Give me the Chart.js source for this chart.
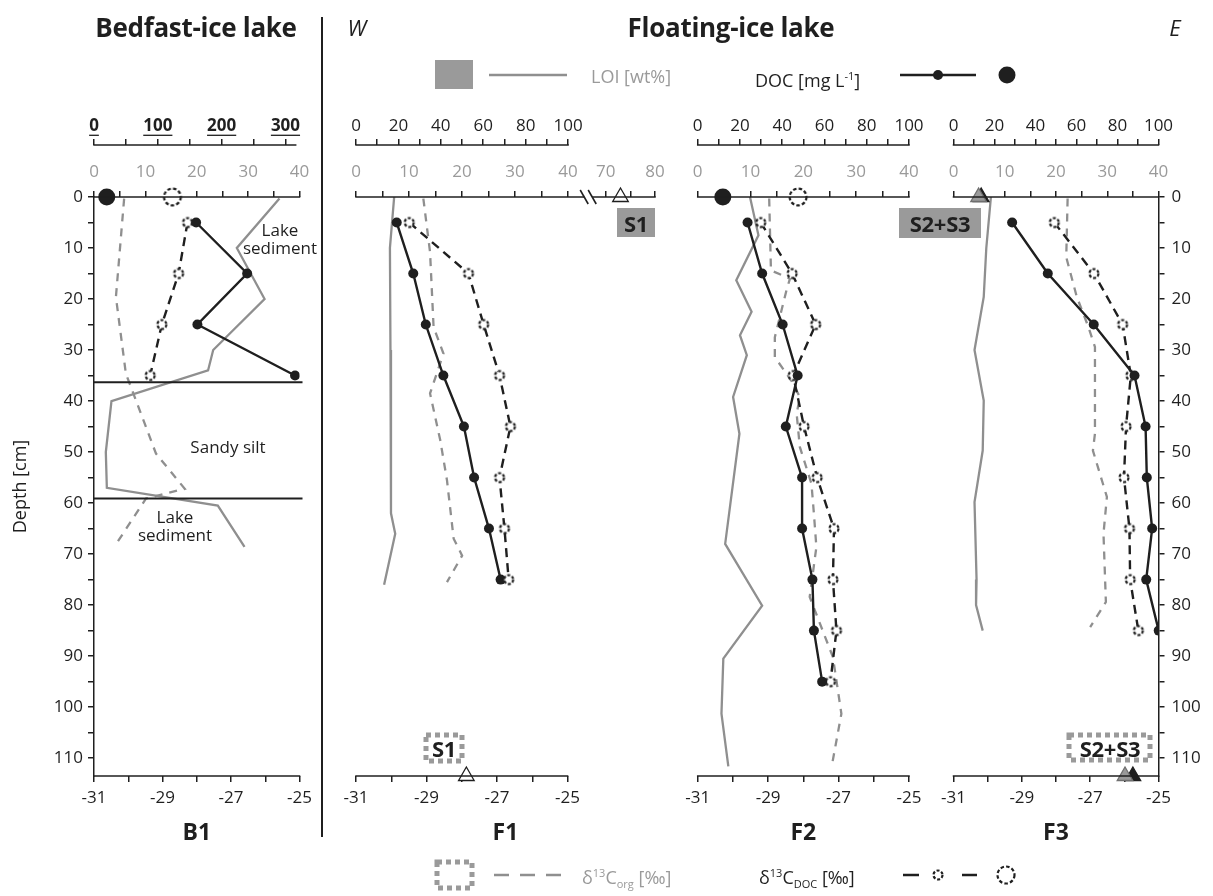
<!DOCTYPE html>
<html>
<head>
<meta charset="utf-8">
<script src="https://cdn.jsdelivr.net/npm/chart.js@4"></script>
<style>
  body { margin: 0; background: #fff; font-family: 'Open Sans', sans-serif; }
  #wrap { position: relative; width: 1213px; height: 896px; overflow: hidden; }
  canvas { position: absolute; left: 0; top: 0; }
  svg { position: absolute; left: 0; top: 0; }
  .t { position: absolute; white-space: nowrap; line-height: 1; color: #1f1f1f; }
  .c { transform: translate(-50%, -50%); text-align: center; }
  .l { transform: translate(0, -50%); }
  .big { font-weight: 700; font-size: 26px; letter-spacing: -0.3px; }
  .it { font-style: italic; font-size: 22px; }
  .lg { font-size: 18px; }
  .gray { color: #9a9a9a; }
  .ann { font-size: 17px; line-height: 18px; }
  .box { font-weight: 700; font-size: 22px; letter-spacing: -0.3px; }
  sup, sub { font-size: 11px; }
</style>
</head>
<body>
<div id="wrap">
  <canvas id="b1" width="1213" height="896"></canvas>
  <canvas id="f1" width="1213" height="896"></canvas>
  <canvas id="f2" width="1213" height="896"></canvas>
  <canvas id="f3" width="1213" height="896"></canvas>

  <svg width="1213" height="896">
    <line x1="322" y1="17" x2="322" y2="837" stroke="#1f1f1f" stroke-width="2"/>
    <!-- top legend -->
    <rect x="435" y="60" width="38" height="29" fill="#9a9a9a"/>
    <line x1="489" y1="75" x2="567" y2="75" stroke="#8f8f8f" stroke-width="2.5"/>
    <line x1="900" y1="75" x2="976" y2="75" stroke="#1f1f1f" stroke-width="2.5"/>
    <circle cx="938" cy="75" r="5" fill="#1f1f1f"/>
    <circle cx="1007" cy="75" r="8.5" fill="#1f1f1f"/>
    <!-- bottom legend -->
    <rect x="437" y="862" width="35" height="26" fill="none" stroke="#9a9a9a" stroke-width="5" stroke-dasharray="5 4"/>
    <line x1="494" y1="875" x2="561" y2="875" stroke="#8f8f8f" stroke-width="2.5" stroke-dasharray="15 11"/>
    <line x1="903" y1="875" x2="919" y2="875" stroke="#1f1f1f" stroke-width="2.5"/>
    <line x1="962" y1="875" x2="977" y2="875" stroke="#1f1f1f" stroke-width="2.5"/>
    <circle cx="938" cy="875" r="4.5" fill="#fff" stroke="#1f1f1f" stroke-width="2.2" stroke-dasharray="3 1.8"/>
    <circle cx="1006" cy="875" r="8.5" fill="#fff" stroke="#1f1f1f" stroke-width="2.2" stroke-dasharray="3.5 2.2"/>
    <!-- sample boxes -->
    <rect x="617" y="208" width="38" height="29" fill="#9a9a9a"/>
    <rect x="899" y="208" width="82" height="30" fill="#9a9a9a"/>
    <rect x="426" y="735" width="36" height="26" fill="none" stroke="#9a9a9a" stroke-width="5" stroke-dasharray="5 4"/>
    <rect x="1069" y="735" width="81" height="25" fill="none" stroke="#9a9a9a" stroke-width="5" stroke-dasharray="5 4"/>
  </svg>

  <div class="t c big" style="left:196px;top:27px">Bedfast-ice lake</div>
  <div class="t c it" style="left:357px;top:27px">W</div>
  <div class="t c big" style="left:731px;top:27px">Floating-ice lake</div>
  <div class="t c it" style="left:1175px;top:27px">E</div>

  <div class="t l lg gray" style="left:591px;top:76px">LOI [wt%]</div>
  <div class="t l lg" style="left:755px;top:79px">DOC [mg L<sup>-1</sup>]</div>
  <div class="t l lg gray" style="left:582px;top:878px">&delta;<sup>13</sup>C<sub>org</sub> [&permil;]</div>
  <div class="t l lg" style="left:759px;top:878px">&delta;<sup>13</sup>C<sub>DOC</sub> [&permil;]</div>

  <div class="t c ann" style="left:280px;top:239px">Lake<br>sediment</div>
  <div class="t c ann" style="left:228px;top:447px">Sandy silt</div>
  <div class="t c ann" style="left:175px;top:526px">Lake<br>sediment</div>

  <div class="t c box" style="left:636px;top:223px">S1</div>
  <div class="t c box" style="left:940px;top:223px">S2+S3</div>
  <div class="t c box" style="left:444px;top:748px">S1</div>
  <div class="t c box" style="left:1110px;top:748px">S2+S3</div>
</div>

<script>
// ---- tick values and labels ----
const depthTicks = [0, 5, 10, 15, 20, 25, 30, 35, 40, 45, 50, 55, 60, 65, 70, 75, 80, 85, 90, 95, 100, 105, 110];
const depthLabels = ['0', '', '10', '', '20', '', '30', '', '40', '', '50', '', '60', '', '70', '', '80', '', '90', '', '100', '', '110'];
const d13Ticks = [-31, -30, -29, -28, -27, -26, -25];
const d13Labels = ['-31', '', '-29', '', '-27', '', '-25'];
const loiTicks = [0, 5, 10, 15, 20, 25, 30, 35, 40];
const loiLabels = ['0', '', '10', '', '20', '', '30', '', '40'];
const f1LoiTicks = [0, 5, 10, 15, 20, 25, 30, 35, 40, 70, 75, 80];
const f1LoiLabels = ['0', '', '10', '', '20', '', '30', '', '40', '70', '', '80'];
const docTicks = [0, 10, 20, 30, 40, 50, 60, 70, 80, 90, 100];
const docLabels = ['0', '', '20', '', '40', '', '60', '', '80', '', '100'];
const b1DocTicks = [0, 50, 100, 150, 200, 250, 300];
const b1DocLabels = ['0', '', '100', '', '200', '', '300'];

// ---- B1 ----
const b1DocDepth = [5, 15, 25, 35];
const b1Doc = [160, 240, 162, 315];
const b1DocD13C = [-28.27, -28.53, -29.02, -29.36];
const b1LoiDepth = [0.3, 10, 20, 30, 34, 40, 50, 57, 60.5, 68.6];
const b1Loi = [36.1, 27.8, 33.2, 23.2, 22.2, 3.4, 2.3, 2.5, 24.1, 29.3];
const b1OrgDepth = [0.3, 19.6, 34.6, 50.3, 57.2, 59.1, 68.6];
const b1Org = [-30.12, -30.36, -30.07, -29.19, -28.35, -29.48, -30.41];
const b1SurfaceDoc = 20;
const b1SurfaceD13C = -28.71;
const b1UnitBounds = [36.3, 59.1];

// ---- F1 ----
const f1DocDepth = [5, 15, 25, 35, 45, 55, 65, 75];
const f1Doc = [19.2, 27.0, 32.9, 41.2, 50.9, 55.7, 62.7, 68.2];
const f1DocD13C = [-29.49, -27.81, -27.38, -26.93, -26.62, -26.93, -26.79, -26.67];
const f1LoiDepth = [0, 10, 30, 62, 66, 76];
const f1Loi = [7.2, 6.4, 6.5, 6.6, 7.4, 5.3];
const f1OrgDepth = [0.3, 10.8, 25.5, 30.7, 38.5, 47.7, 55.5, 67, 70.3, 75.5];
const f1Org = [-29.09, -28.90, -28.80, -28.52, -28.90, -28.61, -28.42, -28.23, -27.99, -28.42];
const s1Loi = 73;
const s1Org = -27.87;

// ---- F2 ----
const f2DocDepth = [5, 15, 25, 35, 45, 55, 65, 75, 85, 95];
const f2Doc = [23.6, 30.5, 40.2, 47.3, 41.7, 49.4, 49.4, 54.3, 55.0, 58.9];
const f2DocD13C = [-29.21, -28.32, -27.65, -28.29, -27.98, -27.61, -27.13, -27.16, -27.06, -27.23];
const f2LoiDepth = [0, 7.5, 16.3, 22.5, 27.1, 31, 39.2, 46.4, 68, 80.1, 90.5, 101.3, 111.6];
const f2Loi = [9.9, 11.5, 7.3, 10.2, 8.0, 9.3, 6.7, 7.9, 5.2, 12.2, 4.85, 4.5, 5.8];
const f2OrgDepth = [0.3, 14.4, 16, 18.3, 27.5, 31.4, 36, 39.2, 42.5, 49, 56.2, 62.1, 68.6, 78.4, 90.2, 101.3, 111.8];
const f2Org = [-28.97, -28.92, -28.38, -28.48, -28.81, -28.81, -28.34, -28.10, -28.19, -28.10, -27.77, -27.70, -27.63, -27.82, -27.16, -26.92, -27.20];
const f2SurfaceDoc = 11.9;
const f2SurfaceD13C = -28.15;

// ---- F3 ----
const f3DocDepth = [5, 15, 25, 35, 45, 55, 65, 75, 85];
const f3Doc = [28.6, 46.0, 68.4, 88.3, 93.7, 94.3, 96.9, 94.0, 100.1];
const f3DocD13C = [-28.05, -26.89, -26.05, -25.81, -25.95, -26.01, -25.85, -25.83, -25.59];
const f3LoiDepth = [0, 10, 19.6, 30, 39.9, 49.7, 59.8, 75, 80, 85];
const f3Loi = [7.3, 6.4, 5.9, 4.1, 5.9, 5.7, 4.1, 4.5, 4.4, 5.7];
const f3OrgDepth = [0.3, 11.8, 19.6, 25.5, 29.4, 46.4, 49.7, 58.8, 66, 79.4, 84.3];
const f3Org = [-27.66, -27.70, -27.39, -27.05, -26.86, -26.86, -26.92, -26.51, -26.61, -26.54, -27.0];
const s2Loi = 4.9, s3Loi = 5.4;
const s2Org = -25.98, s3Org = -25.75;

const topDepth = 0;
const bottomDepth = 113.5;

const INK = '#1f1f1f';
const GRAY = '#8f8f8f';
const LABEL_GRAY = '#9a9a9a';
const TICK_SIZE = 17;
Chart.defaults.font.family = "'Open Sans', sans-serif";

// F1 LOI axis is broken between 40 and 70
const brk = v => (v <= 40 ? v : 47.1 + (v - 70) * 0.93);

function dottedCircle(r, dash, lw) {
  const s = Math.ceil(2 * r + lw * 2 + 2);
  const c = document.createElement('canvas');
  c.width = c.height = s;
  const g = c.getContext('2d');
  g.beginPath();
  g.arc(s / 2, s / 2, r, 0, Math.PI * 2);
  g.fillStyle = '#fff';
  g.fill();
  g.setLineDash(dash);
  g.lineWidth = lw;
  g.strokeStyle = INK;
  g.stroke();
  return c;
}
const smallCircle = dottedCircle(4.5, [3, 1.8], 2.2);
const bigCircle = dottedCircle(8.4, [3.5, 2.2], 2.2);

const pts = (xs, ys) => xs.map((x, i) => ({ x, y: ys[i] }));

function docLine(vals, depths) {
  return { data: pts(vals, depths), xAxisID: 'xc', yAxisID: 'y', showLine: true,
    borderColor: INK, borderWidth: 2.4, pointRadius: 5, pointBackgroundColor: INK, pointBorderWidth: 0 };
}
function d13Line(vals, depths) {
  return { data: pts(vals, depths), xAxisID: 'xd', yAxisID: 'y', showLine: true,
    borderColor: INK, borderWidth: 2.4, borderDash: [9, 6], pointStyle: smallCircle, pointRadius: 5 };
}
function loiLine(vals, depths) {
  return { data: pts(vals, depths), xAxisID: 'xl', yAxisID: 'y', showLine: true,
    borderColor: GRAY, borderWidth: 2.3, pointRadius: 0 };
}
function orgLine(vals, depths) {
  return { data: pts(vals, depths), xAxisID: 'xd', yAxisID: 'y', showLine: true,
    borderColor: GRAY, borderWidth: 2.3, borderDash: [8, 7], pointRadius: 0 };
}
function marker(axis, x, y, style) {
  return Object.assign({ data: [{ x, y }], xAxisID: axis, yAxisID: 'y', showLine: false, clip: false }, style);
}
const bigDot = { pointRadius: 8.5, pointBackgroundColor: INK, pointBorderWidth: 0 };
const bigOpen = { pointStyle: bigCircle, pointRadius: 9 };
const tri = fill => ({ pointStyle: 'triangle', pointRadius: 9, pointBackgroundColor: fill,
  pointBorderColor: fill === '#fff' ? INK : (fill === INK ? INK : '#6f6f6f'), pointBorderWidth: 1.3 });

function xAxis(pos, min, max, ticks, labels, opt) {
  return {
    type: 'linear', position: pos, min, max, weight: opt.weight || 0,
    border: { display: false },
    grid: { drawOnChartArea: false, drawTicks: true, tickLength: 6, lineWidth: 1.5, color: INK },
    ticks: {
      font: { size: TICK_SIZE, weight: opt.bold ? 'bold' : 'normal' }, color: opt.color || INK,
      padding: opt.pad, maxRotation: 0, autoSkip: false,
      callback: (v, i) => labels[i]
    },
    title: opt.title ? { display: true, text: opt.title, color: INK,
      font: { size: 23, weight: 'bold' }, padding: { top: 0, bottom: 3 } } : { display: false },
    afterBuildTicks: s => { s.ticks = ticks.map(value => ({ value })); },
    afterFit: s => { s.height = opt.height; s.paddingLeft = 0; s.paddingRight = 0; }
  };
}

function yAxis(show, pos, width, title) {
  return {
    type: 'linear', display: show, position: pos, reverse: true, min: topDepth, max: bottomDepth,
    border: { display: true, color: INK, width: 1.5 },
    grid: { drawOnChartArea: false, tickLength: 6, lineWidth: 1.5, color: INK },
    ticks: { font: { size: TICK_SIZE }, color: INK, padding: pos === 'left' ? 5 : 7, callback: (v, i) => depthLabels[i] },
    title: title ? { display: true, text: title, color: INK, font: { size: 18 }, padding: { top: 10, bottom: 0 } } : { display: false },
    afterBuildTicks: s => { s.ticks = depthTicks.map(value => ({ value })); },
    afterFit: s => { s.width = width; }
  };
}

function deco(spec) {
  return {
    id: 'deco',
    afterDraw(chart) {
      const ctx = chart.ctx;
      const area = chart.chartArea;
      ctx.save();
      ctx.strokeStyle = INK;
      ctx.lineWidth = 1.5;
      Object.entries(spec.spans).forEach(([id, span]) => {
        const s = chart.scales[id];
        const y = s.position === 'top' ? s.bottom : s.top;
        ctx.beginPath();
        ctx.moveTo(s.getPixelForValue(span[0]) - 0.75, y);
        ctx.lineTo(s.getPixelForValue(span[1]) + 0.75, y);
        ctx.stroke();
      });
      if (spec.bounds) {
        const ys = chart.scales.y;
        ctx.lineWidth = 2;
        spec.bounds.forEach(d => {
          const y = ys.getPixelForValue(d);
          ctx.beginPath();
          ctx.moveTo(area.left, y);
          ctx.lineTo(area.right + 3, y);
          ctx.stroke();
        });
      }
      if (spec.breakAt != null) {
        const s = chart.scales.xl;
        const x = s.getPixelForValue(spec.breakAt);
        const y = s.bottom;
        ctx.fillStyle = '#fff';
        ctx.fillRect(x - 4, y - 2, 8, 4);
        ctx.lineWidth = 1.6;
        [-4, 4].forEach(dx => {
          ctx.beginPath();
          ctx.moveTo(x + dx - 4, y - 7);
          ctx.lineTo(x + dx + 4, y + 7);
          ctx.stroke();
        });
      }
      if (spec.underline) {
        const s = chart.scales.xc;
        ctx.font = "bold " + TICK_SIZE + "px 'Open Sans', sans-serif";
        ctx.lineWidth = 1.3;
        const yc = s.bottom - 6 - s.options.ticks.padding - TICK_SIZE * 0.6;
        s.ticks.forEach(t => {
          if (!t.label) return;
          const w = ctx.measureText(t.label).width;
          const x = s.getPixelForValue(t.value);
          ctx.beginPath();
          ctx.moveTo(x - w / 2, yc + 9.5);
          ctx.lineTo(x + w / 2, yc + 9.5);
          ctx.stroke();
        });
      }
      ctx.restore();
    }
  };
}

function panel(id, cfg) {
  new Chart(document.getElementById(id), {
    type: 'scatter',
    data: { datasets: cfg.datasets },
    options: {
      responsive: false, animation: false, events: [],
      layout: { padding: cfg.pad },
      plugins: { legend: { display: false }, tooltip: { enabled: false } },
      scales: {
        y: cfg.y,
        xd: xAxis('bottom', -31, cfg.dMax, d13Ticks, d13Labels, { pad: 6, height: 74, title: cfg.title }),
        xl: xAxis('top', 0, cfg.lMax, cfg.lTicks, cfg.lLabels, { pad: 8.5, height: 52, color: LABEL_GRAY, weight: 1 }),
        xc: xAxis('top', 0, cfg.cMax, cfg.cTicks, cfg.cLabels, { pad: 3, height: 45, bold: cfg.cBold, weight: 2 })
      }
    },
    plugins: [deco(cfg.deco)]
  });
}

panel('b1', {
  title: 'B1',
  pad: { left: 0, right: 913.5, top: 100, bottom: 46 },
  y: yAxis(true, 'left', 94, 'Depth [cm]'),
  dMax: -25, lMax: 40, cMax: 322,
  lTicks: loiTicks, lLabels: loiLabels,
  cTicks: b1DocTicks, cLabels: b1DocLabels, cBold: true,
  deco: { spans: { xd: [-31, -25], xl: [0, 40], xc: [0, 316] }, bounds: b1UnitBounds, underline: true },
  datasets: [
    marker('xc', b1SurfaceDoc, topDepth, bigDot),
    marker('xd', b1SurfaceD13C, topDepth, bigOpen),
    docLine(b1Doc, b1DocDepth),
    d13Line(b1DocD13C, b1DocDepth),
    loiLine(b1Loi, b1LoiDepth),
    orgLine(b1Org, b1OrgDepth)
  ]
});

panel('f1', {
  title: 'F1',
  pad: { left: 356, right: 558, top: 100, bottom: 46 },
  y: yAxis(false, 'left', 0),
  dMax: -22.52, lMax: 56.4, cMax: 141,
  lTicks: f1LoiTicks.map(brk), lLabels: f1LoiLabels,
  cTicks: docTicks, cLabels: docLabels,
  deco: { spans: { xd: [-31, -25], xl: [0, 56.4], xc: [0, 100] }, breakAt: 43.8 },
  datasets: [
    marker('xl', brk(s1Loi), topDepth, tri('#fff')),
    marker('xd', s1Org, bottomDepth, tri('#fff')),
    d13Line(f1DocD13C, f1DocDepth),
    docLine(f1Doc, f1DocDepth),
    loiLine(f1Loi.map(brk), f1LoiDepth),
    orgLine(f1Org, f1OrgDepth)
  ]
});

panel('f2', {
  title: 'F2',
  pad: { left: 697.7, right: 304, top: 100, bottom: 46 },
  y: yAxis(false, 'left', 0),
  dMax: -25, lMax: 40, cMax: 100,
  lTicks: loiTicks, lLabels: loiLabels,
  cTicks: docTicks, cLabels: docLabels,
  deco: { spans: { xd: [-31, -25], xl: [0, 40], xc: [0, 100] } },
  datasets: [
    marker('xc', f2SurfaceDoc, topDepth, bigDot),
    marker('xd', f2SurfaceD13C, topDepth, bigOpen),
    docLine(f2Doc, f2DocDepth),
    d13Line(f2DocD13C, f2DocDepth),
    loiLine(f2Loi, f2LoiDepth),
    orgLine(f2Org, f2OrgDepth)
  ]
});

panel('f3', {
  title: 'F3',
  pad: { left: 953.5, right: 0, top: 100, bottom: 46 },
  y: yAxis(true, 'right', 54.5),
  dMax: -25, lMax: 40, cMax: 100,
  lTicks: loiTicks, lLabels: loiLabels,
  cTicks: docTicks, cLabels: docLabels,
  deco: { spans: { xd: [-31, -25], xl: [0, 40], xc: [0, 100] } },
  datasets: [
    marker('xl', s2Loi, topDepth, tri('#9a9a9a')),
    marker('xl', s3Loi, topDepth, tri(INK)),
    marker('xd', s2Org, bottomDepth, tri('#9a9a9a')),
    marker('xd', s3Org, bottomDepth, tri(INK)),
    docLine(f3Doc, f3DocDepth),
    d13Line(f3DocD13C, f3DocDepth),
    loiLine(f3Loi, f3LoiDepth),
    orgLine(f3Org, f3OrgDepth)
  ]
});
</script>
</body>
</html>
